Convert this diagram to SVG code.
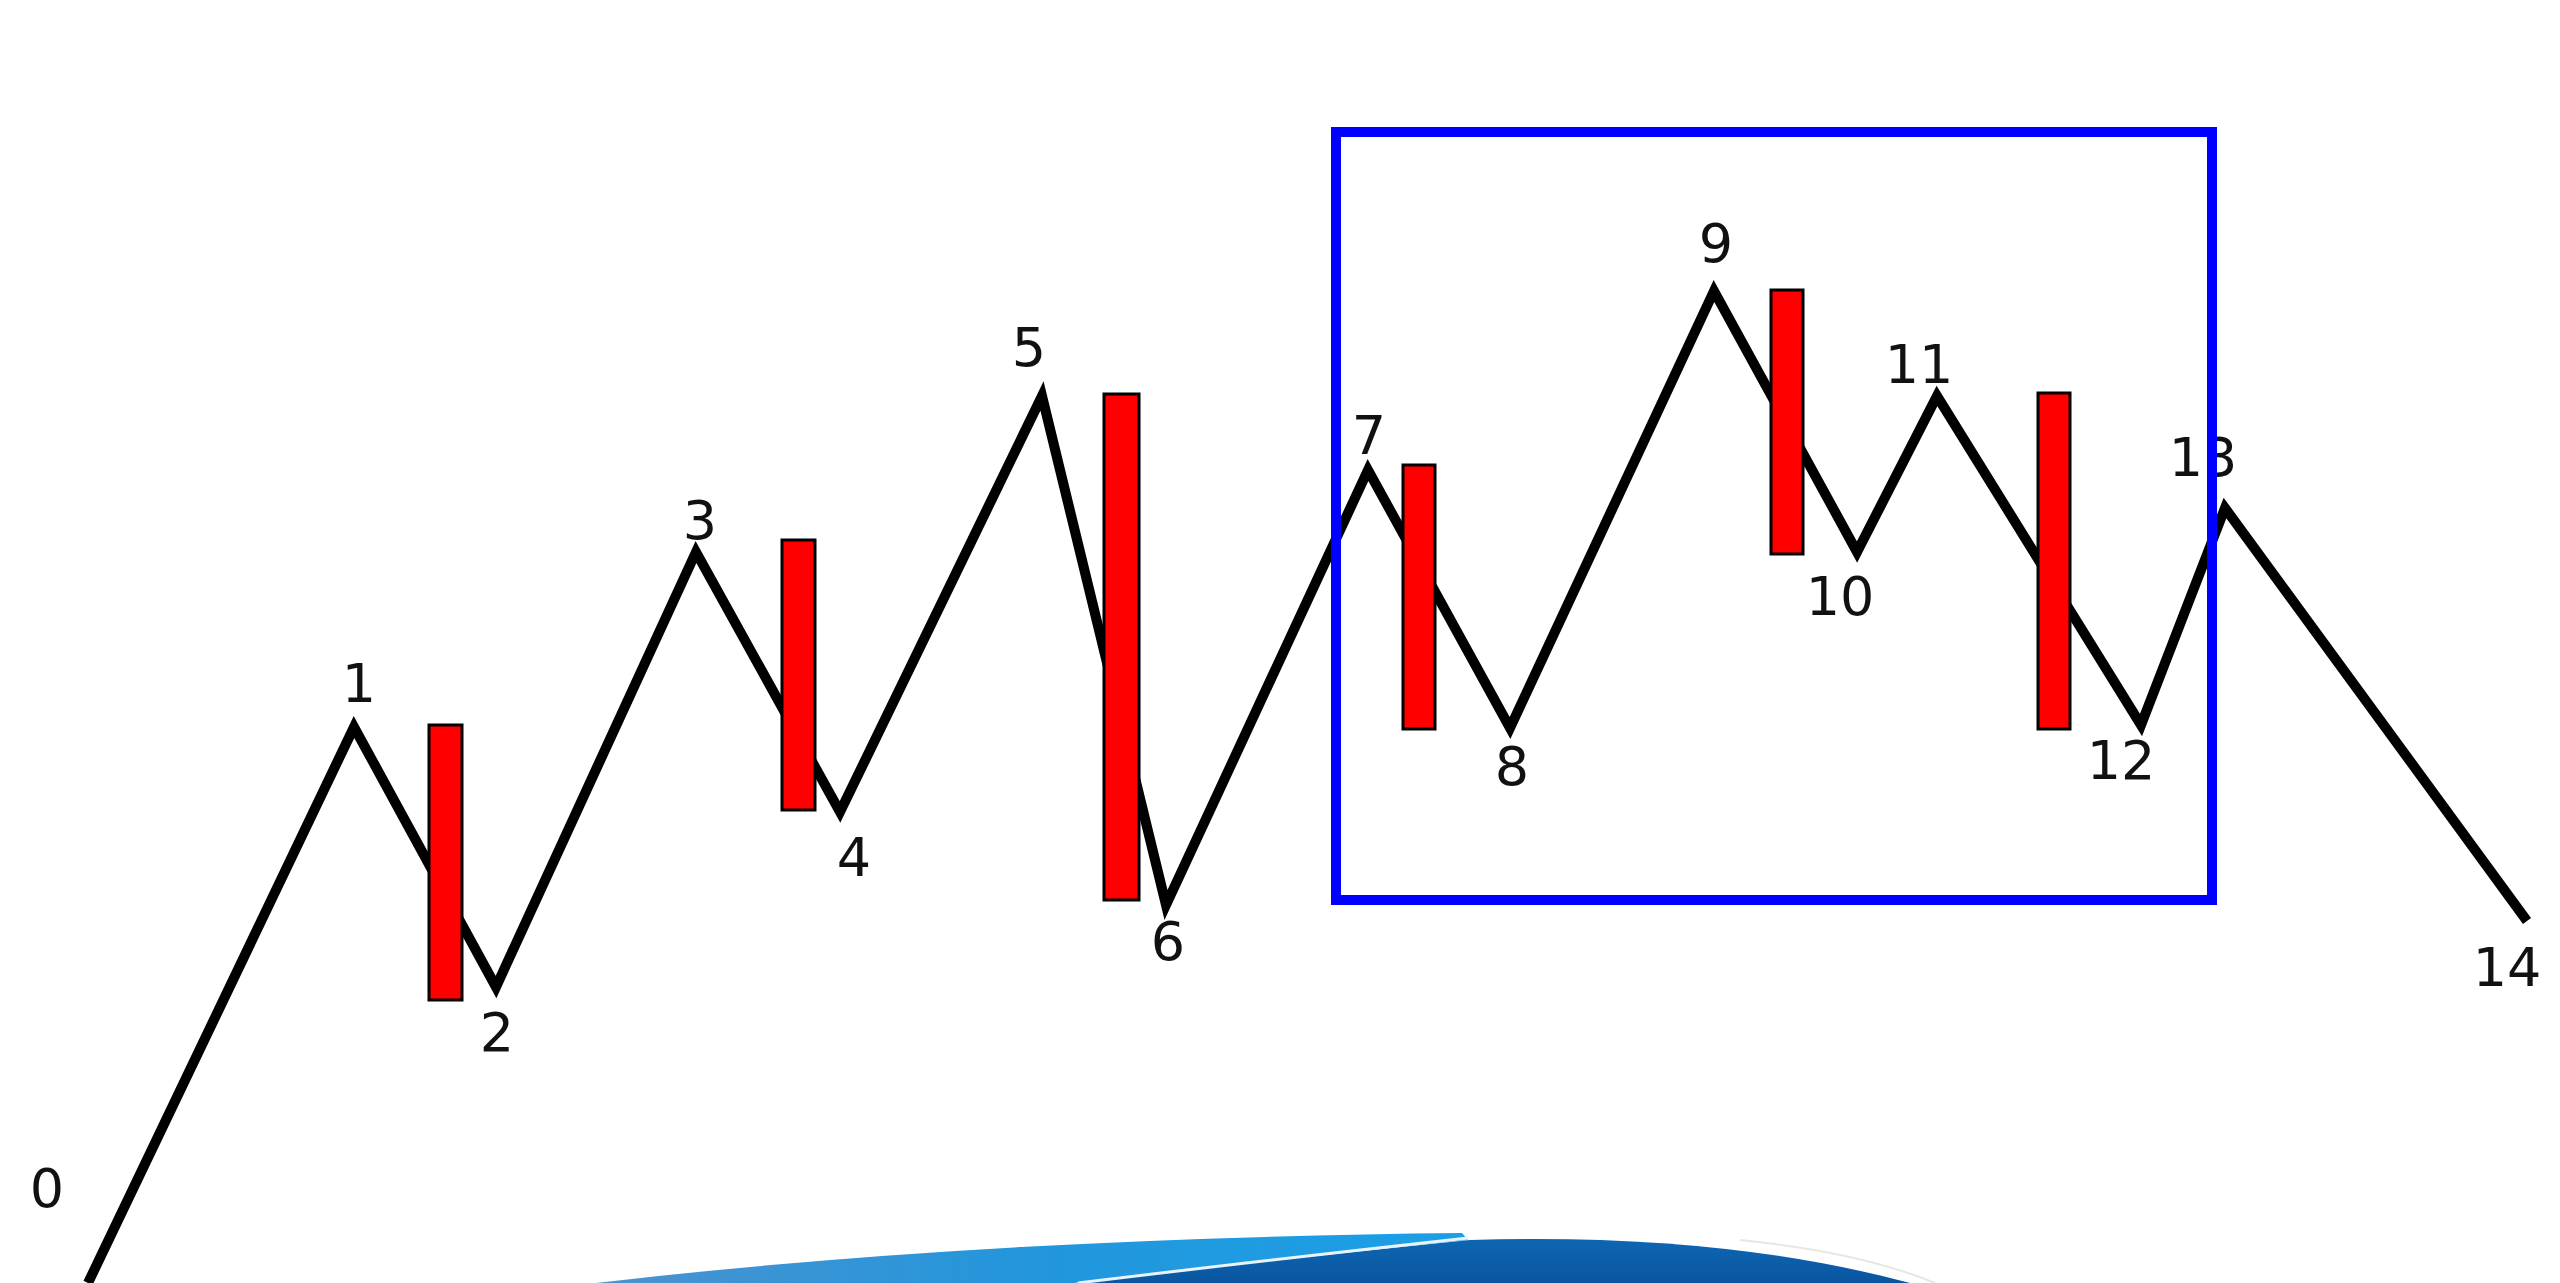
<svg xmlns="http://www.w3.org/2000/svg" width="2560" height="1283" viewBox="0 0 2560 1283">
<defs>
<style>
.lbl{font-family:"DejaVu Sans",sans-serif;font-size:54px;fill:#111;text-anchor:middle}
.bar{fill:#ff0000;stroke:#000;stroke-width:3}
.wave{fill:none;stroke:#000;stroke-width:10;stroke-linejoin:miter;stroke-miterlimit:4}
</style>
<linearGradient id="gl" x1="0" y1="0" x2="1" y2="0">
<stop offset="0" stop-color="#4a93cf"/>
<stop offset="0.5" stop-color="#2396dc"/>
<stop offset="1" stop-color="#1aa0e6"/>
</linearGradient>
<linearGradient id="gd" x1="0" y1="0" x2="0" y2="1">
<stop offset="0" stop-color="#0d66b3"/>
<stop offset="1" stop-color="#0a56a0"/>
</linearGradient>
</defs>
<rect width="2560" height="1283" fill="#fff"/>
<g id="swoosh">
<path d="M596,1283 Q980,1238 1462,1233 L1468,1240 Q1240,1262 1074,1283 Z" fill="url(#gl)"/>
<path d="M1082,1283 Q1250,1262 1470,1240 Q1720,1232 1910,1283 Z" fill="url(#gd)"/>
<path d="M1078,1283 Q1250,1262 1468,1238" fill="none" stroke="#e8f3fb" stroke-width="3"/>
<path d="M1740,1240 Q1860,1252 1935,1283" fill="none" stroke="#e6e6e6" stroke-width="2"/>
</g>
<g id="connectors">
<polyline class="wave" points="88,1283 354,727 496,987 696,552 840,812 1042,396 1166,905 1368,470 1510,728 1714,291 1857,552 1937,396 2141,725 2225,508 2527,921"/>
</g>
<g id="bars">
<rect id="bar1" class="bar" x="429" y="725" width="33" height="275"/>
<rect id="bar3" class="bar" x="782" y="540" width="33" height="270"/>
<rect id="bar5" class="bar" x="1104" y="394" width="35" height="506"/>
<rect id="bar7" class="bar" x="1403" y="465" width="32" height="264"/>
<rect id="bar9" class="bar" x="1771" y="290" width="32" height="264"/>
<rect id="bar11" class="bar" x="2038" y="393" width="32" height="336"/>
</g>
<g id="labels">
<text id="n0" class="lbl" x="47" y="1207">0</text>
<text id="n1" class="lbl" x="359" y="702">1</text>
<text id="n2" class="lbl" x="497" y="1051">2</text>
<text id="n3" class="lbl" x="700" y="539">3</text>
<text id="n4" class="lbl" x="854" y="876">4</text>
<text id="n5" class="lbl" x="1029" y="366">5</text>
<text id="n6" class="lbl" x="1168" y="960">6</text>
<text id="n7" class="lbl" x="1369" y="454">7</text>
<text id="n8" class="lbl" x="1512" y="785">8</text>
<text id="n9" class="lbl" x="1716" y="262">9</text>
<text id="n10" class="lbl" x="1840" y="615">10</text>
<text id="n11" class="lbl" x="1919" y="383">11</text>
<text id="n12" class="lbl" x="2121" y="779">12</text>
<text id="n13" class="lbl" x="2203" y="476">13</text>
<text id="n14" class="lbl" x="2507" y="986">14</text>
</g>
<g id="box">
<rect x="1336" y="132" width="876" height="768" fill="none" stroke="#0000ff" stroke-width="10"/>
</g>
</svg>
